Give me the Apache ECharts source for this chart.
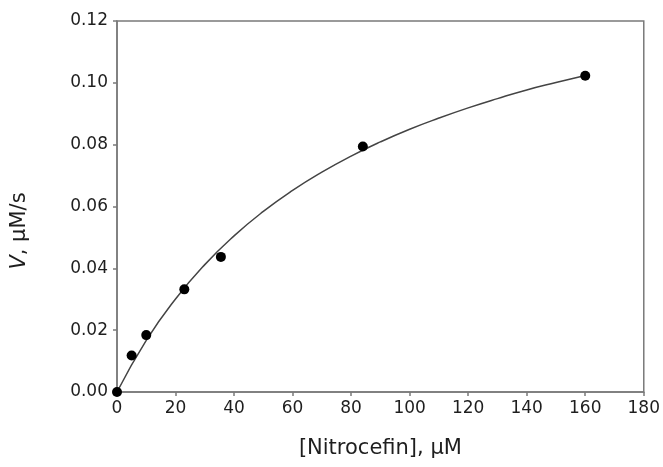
<!DOCTYPE html>
<html>
<head>
<meta charset="utf-8">
<script src="https://cdn.jsdelivr.net/npm/echarts@6/dist/echarts.min.js"></script>
<style>
  html, body { margin: 0; padding: 0; background: #fff; }
  #chart { width: 663px; height: 467px; }
</style>
</head>
<body>
<div id="chart"></div>
<script>
// Measured initial rates vs. substrate concentration
const substrateUM = [0, 5, 10, 23, 35.5, 84, 160];
const rateUMs = [0, 0.0118, 0.0184, 0.0332, 0.0437, 0.0794, 0.1023];

// Fitted saturation curve, sampled along the concentration axis
const fitS = [0, 10, 20, 30, 40, 50, 60, 70, 80, 90, 100, 110, 120, 130, 140, 150, 160];
const fitV = [0, 0.0167, 0.0301, 0.0412, 0.0505, 0.0584, 0.0652, 0.0711, 0.0763,
              0.0809, 0.0850, 0.0886, 0.0919, 0.0949, 0.0977, 0.1001, 0.1024];

const xTitle = '[Nitrocefin], μM';
const yTitleItalic = 'V';
const yTitleRest = ', μM/s';

const font = 'DejaVu Sans';
const axisGray = '#7a7a7a';
const textColor = '#1e1e1e';

const chart = echarts.init(document.getElementById('chart'), null, { renderer: 'canvas' });

chart.setOption({
  animation: false,
  backgroundColor: '#fff',
  grid: {
    left: 117, right: 17, top: 21, bottom: 75,
    show: true, borderColor: axisGray, borderWidth: 1.5, backgroundColor: 'transparent'
  },
  xAxis: {
    type: 'value', min: 0, max: 180, interval: 20,
    splitLine: { show: false },
    axisLine: { onZero: false, lineStyle: { color: axisGray, width: 1.5 } },
    axisTick: { length: 4, lineStyle: { color: axisGray, width: 1.5 } },
    axisLabel: { color: textColor, fontFamily: font, fontSize: 17, margin: 8 },
    name: xTitle, nameLocation: 'middle', nameGap: 46,
    nameTextStyle: { color: textColor, fontFamily: font, fontSize: 21 }
  },
  yAxis: {
    type: 'value', min: 0, max: 0.12, interval: 0.02,
    splitLine: { show: false },
    axisLine: { lineStyle: { color: axisGray, width: 1.5 } },
    axisTick: { length: 4, lineStyle: { color: axisGray, width: 1.5 } },
    axisLabel: {
      color: textColor, fontFamily: font, fontSize: 17, margin: 9,
      formatter: v => v.toFixed(2)
    }
  },
  graphic: [{
    type: 'text',
    x: 20, y: 231,
    rotation: Math.PI / 2,
    style: {
      text: '{i|' + yTitleItalic + '}{r|' + yTitleRest + '}',
      align: 'center', verticalAlign: 'middle',
      rich: {
        i: { fontFamily: font, fontSize: 21, fontStyle: 'italic', fill: textColor },
        r: { fontFamily: font, fontSize: 21, fill: textColor }
      }
    }
  }],
  series: [
    {
      type: 'line',
      data: fitS.map((s, i) => [s, fitV[i]]),
      smooth: true,
      showSymbol: false,
      lineStyle: { color: '#444', width: 1.5 },
      z: 2
    },
    {
      type: 'scatter',
      data: substrateUM.map((s, i) => [s, rateUMs[i]]),
      symbol: 'circle',
      symbolSize: 10,
      itemStyle: { color: '#000', opacity: 1 },
      z: 3
    }
  ]
});
</script>
</body>
</html>
